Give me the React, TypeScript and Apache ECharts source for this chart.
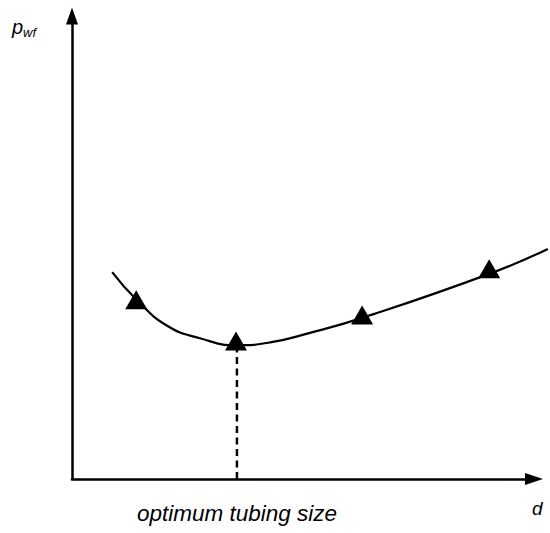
import React, { useEffect, useRef } from "react";
import * as echarts from "echarts";

// curve through the data (x: tubing diameter, y: p_wf), arbitrary units
const curveX = [0.87, 1.39, 2.06, 2.77, 3.57, 4.29, 5.09, 6.28, 9.03, 10.3];
const curveY = [4.47, 3.88, 3.31, 3.04, 2.89, 2.95, 3.14, 3.48, 4.43, 4.97];
// triangle markers
const markX = [1.39, 3.55, 6.28, 9.03];
const markY = [3.87, 2.98, 3.54, 4.54];
// optimum diameter
const optimumX = 3.57;
const optimumY = 2.89;

const yLabelMain = "p";
const yLabelSub = "wf";
const xLabel = "d";
const optimumLabel = "optimum tubing size";

export default function App() {
  const ref = useRef<HTMLDivElement>(null);
  useEffect(() => {
    if (!ref.current) return;
    const chart = echarts.init(ref.current, null, { renderer: "svg" });
    const font = "'Liberation Sans', Arial, sans-serif";
    const hidden = {
      axisLine: { show: false },
      axisTick: { show: false },
      axisLabel: { show: false },
      splitLine: { show: false },
    };
    chart.setOption({
      animation: false,
      grid: [
        { left: 72, right: 16, top: 16, bottom: 54 },
        { left: 72, right: 2, top: 16, bottom: 54 },
      ],
      xAxis: [
        {
          type: "value",
          gridIndex: 0,
          min: 0,
          max: 10,
          axisLine: {
            show: true,
            symbol: ["none", "triangle"],
            symbolSize: [12, 18],
            lineStyle: { color: "#000", width: 2.5 },
          },
          axisTick: { show: false },
          axisLabel: { show: false },
          splitLine: { show: false },
        },
        { type: "value", gridIndex: 1, min: 0, max: 476 / 46.2, ...hidden },
      ],
      yAxis: [
        {
          type: "value",
          gridIndex: 0,
          min: 0,
          max: 10,
          axisLine: {
            show: true,
            symbol: ["none", "triangle"],
            symbolSize: [12, 17],
            lineStyle: { color: "#000", width: 2.5 },
          },
          axisTick: { show: false },
          axisLabel: { show: false },
          splitLine: { show: false },
        },
        { type: "value", gridIndex: 1, min: 0, max: 10, ...hidden },
      ],
      series: [
        {
          type: "line",
          xAxisIndex: 1,
          yAxisIndex: 1,
          data: [
            [optimumX, 0],
            [optimumX, optimumY],
          ],
          symbol: "none",
          lineStyle: { color: "#000", width: 2.5, type: [7, 4.5] },
          z: 1,
        },
        {
          type: "line",
          xAxisIndex: 1,
          yAxisIndex: 1,
          data: curveX.map((x, i) => [x, curveY[i]]),
          smooth: 0.5,
          symbol: "none",
          clip: false,
          lineStyle: { color: "#000", width: 2.2 },
          z: 2,
        },
        {
          type: "scatter",
          xAxisIndex: 1,
          yAxisIndex: 1,
          data: markX.map((x, i) => [x, markY[i]]),
          symbol: "triangle",
          symbolSize: [22, 19],
          itemStyle: { color: "#000", opacity: 1 },
          z: 3,
        },
      ],
      graphic: [
        {
          type: "text",
          left: 12,
          top: 17,
          style: {
            text: `{p|${yLabelMain}}{s|${yLabelSub}}`,
            rich: {
              p: { fontSize: 20, fontStyle: "italic", fontFamily: font, fill: "#000" },
              s: { fontSize: 13, fontStyle: "italic", fontFamily: font, fill: "#000", padding: [10, 0, 0, 0] },
            },
          },
        },
        {
          type: "text",
          left: 532,
          top: 499,
          style: { text: xLabel, fontSize: 19, fontStyle: "italic", fontFamily: font, fill: "#000" },
        },
        {
          type: "text",
          left: 137,
          top: 502,
          style: { text: optimumLabel, fontSize: 22.5, fontStyle: "italic", fontFamily: font, fill: "#000" },
        },
      ],
    });
    return () => chart.dispose();
  }, []);
  return <div ref={ref} style={{ width: 550, height: 533, position: "absolute", left: 0, top: 0 }} />;
}
